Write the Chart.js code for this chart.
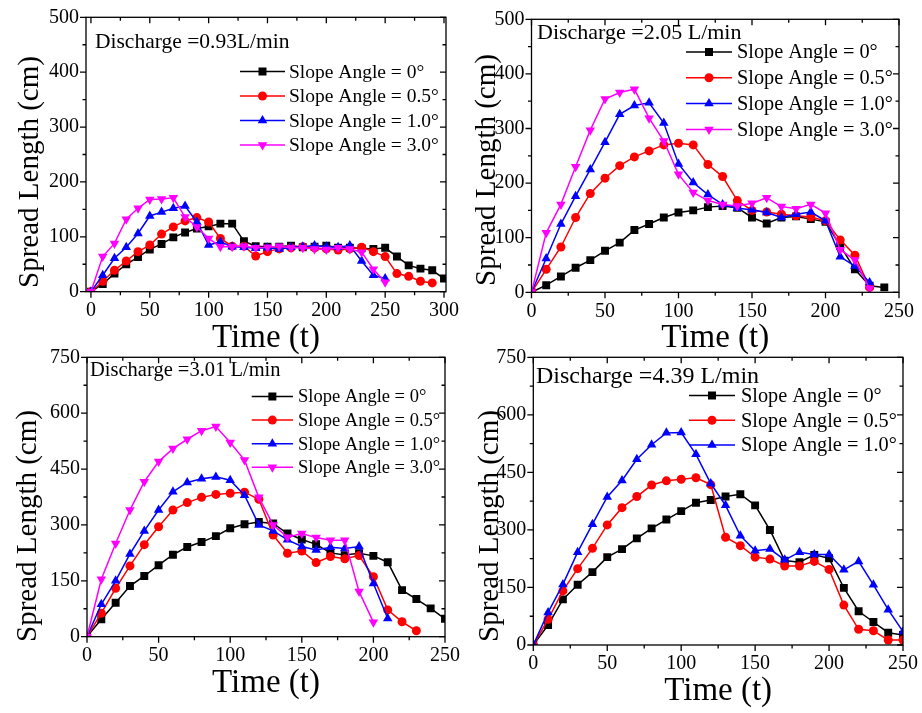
<!DOCTYPE html>
<html>
<head>
<meta charset="utf-8">
<script src="https://cdn.jsdelivr.net/npm/chart.js@4.4.0/dist/chart.umd.min.js"></script>
<style>
html, body { margin: 0; padding: 0; background: #fff; }
#wrap { position: relative; width: 922px; height: 713px; overflow: hidden; }
#wrap canvas { position: absolute; left: 0; top: 0; }
</style>
</head>
<body>
<div id="wrap">
  <canvas id="p1" width="922" height="713"></canvas>
  <canvas id="p2" width="922" height="713"></canvas>
  <canvas id="p3" width="922" height="713"></canvas>
  <canvas id="p4" width="922" height="713"></canvas>
</div>
<script>
// time of each reading (t)
const times = [0,10,20,30,40,50,60,70,80,90,100,110,120,130,140,150,160,170,180,190,200,210,220,230,240,250,260,270,280,290,300];

// tick labels
const xTicks300 = [0,50,100,150,200,250,300];
const xTicks250 = [0,50,100,150,200,250];
const yTicks500 = [0,100,200,300,400,500];
const yTicks750 = [0,150,300,450,600,750];

const seriesNames = ['Slope Angle = 0°', 'Slope Angle = 0.5°', 'Slope Angle = 1.0°', 'Slope Angle = 3.0°'];
const seriesColors = ['#000000', '#ff0000', '#0000ff', '#ff00ff'];
const seriesMarkers = ['rect', 'circle', 'triangle', 'triangleDown'];

// Discharge = 0.93 L/min
const p1Slope0  = [0,14,33,50,63,77,87,99,108,115,119,124,124,92,83,82,82,84,81,82,84,80,80,79,78,80,64,48,42,39,24];
const p1Slope05 = [0,19,39,56,73,85,105,118,129,135,127,97,83,83,65,73,78,80,82,80,78,76,78,81,73,64,33,28,19,16];
const p1Slope10 = [0,30,61,81,106,138,145,152,156,127,85,91,82,81,79,80,78,81,82,84,82,81,84,56,30,24];
const p1Slope30 = [0,64,88,132,152,168,169,171,136,118,97,82,82,83,80,81,83,80,80,78,77,80,78,72,41,17];

// Discharge = 2.05 L/min
const p2Slope0  = [0,13,29,45,59,76,91,114,125,137,146,150,156,158,155,137,126,137,139,134,129,85,42,12,9];
const p2Slope05 = [0,42,83,137,181,209,232,248,259,270,273,270,234,212,168,150,147,143,140,138,131,96,68,9];
const p2Slope10 = [0,62,125,176,225,275,326,342,347,310,235,201,179,161,154,151,146,137,143,147,131,65,48,18];
const p2Slope30 = [0,109,161,230,297,354,366,372,319,277,216,183,168,161,158,163,173,157,153,161,145,78,59,7];

// Discharge = 3.01 L/min
const p3Slope0  = [0,47,91,136,163,192,220,241,254,270,291,302,308,304,277,261,248,225,219,224,217,200,125,101,76,48];
const p3Slope05 = [0,63,130,190,247,295,340,360,374,382,385,388,369,273,224,230,199,215,209,218,161,72,40,16];
const p3Slope10 = [0,87,150,222,284,340,389,414,424,429,420,380,300,284,260,242,233,240,237,242,143,49];
const p3Slope30 = [0,154,250,340,416,470,505,530,553,564,521,474,374,300,267,277,266,259,259,121,39];

// Discharge = 4.39 L/min
const p4Slope0  = [0,52,119,157,190,229,250,278,304,327,349,371,378,387,393,364,300,220,216,235,226,149,88,60,32,26];
const p4Slope05 = [0,67,141,199,252,313,358,387,417,428,432,436,418,281,259,229,224,206,206,218,197,104,41,37,13,13];
const p4Slope10 = [0,85,158,242,315,386,429,484,522,553,554,497,421,364,285,246,250,222,242,236,236,196,218,157,92,35];

const FONT = "'Times New Roman', 'Liberation Serif', serif";

function withMinor(major) {
    const out = [];
    for (let i = 0; i < major.length; i++) {
        out.push(major[i]);
        if (i < major.length - 1) out.push((major[i] + major[i + 1]) / 2);
    }
    return out;
}

function drawMarker(ctx, kind, x, y, color) {
    ctx.fillStyle = color;
    ctx.beginPath();
    if (kind === 'rect') {
        ctx.rect(x - 4, y - 4, 8, 8);
    } else if (kind === 'circle') {
        ctx.arc(x, y, 4.5, 0, Math.PI * 2);
    } else if (kind === 'triangle') {
        ctx.moveTo(x, y - 5.5);
        ctx.lineTo(x + 4.8, y + 2.75);
        ctx.lineTo(x - 4.8, y + 2.75);
    } else {
        ctx.moveTo(x, y + 5.5);
        ctx.lineTo(x + 4.8, y - 2.75);
        ctx.lineTo(x - 4.8, y - 2.75);
    }
    ctx.closePath();
    ctx.fill();
}

// box, mirror ticks, y title, note and legend, Origin style
const framePlugin = {
    id: 'frame',
    afterDatasetsDraw(chart, args, opts) {
        const {ctx, chartArea: a, scales: {x, y}} = chart;
        ctx.save();
        ctx.strokeStyle = '#000';
        ctx.lineWidth = 1.3;
        ctx.strokeRect(a.left, a.top, a.right - a.left, a.bottom - a.top);
        ctx.beginPath();
        x.ticks.forEach(t => {
            const px = x.getPixelForValue(t.value);
            const len = opts.xMajor.includes(t.value) ? 6 : 3.5;
            ctx.moveTo(px, a.bottom); ctx.lineTo(px, a.bottom + len);
            ctx.moveTo(px, a.top); ctx.lineTo(px, a.top + len);
        });
        y.ticks.forEach(t => {
            const py = y.getPixelForValue(t.value);
            const len = opts.yMajor.includes(t.value) ? 6 : 3.5;
            ctx.moveTo(a.left, py); ctx.lineTo(a.left - len, py);
            ctx.moveTo(a.right, py); ctx.lineTo(a.right - len, py);
        });
        ctx.stroke();

        ctx.fillStyle = '#000';
        ctx.textBaseline = 'middle';

        // y axis title
        ctx.save();
        ctx.translate(opts.yTitle.cx, opts.yTitle.cy);
        ctx.rotate(-Math.PI / 2);
        ctx.textAlign = 'center';
        ctx.font = opts.yTitle.size + 'px ' + FONT;
        ctx.fillText('Spread Length (cm)', 0, 0);
        ctx.restore();

        // discharge note
        ctx.textAlign = 'left';
        ctx.font = opts.note.size + 'px ' + FONT;
        ctx.fillText(opts.note.text, opts.note.x, opts.note.y);

        // legend
        const lg = opts.legend;
        chart.data.datasets.forEach((ds, i) => {
            const yy = lg.y + i * lg.dy;
            ctx.strokeStyle = ds.borderColor;
            ctx.lineWidth = 1.5;
            ctx.beginPath();
            ctx.moveTo(lg.x1, yy);
            ctx.lineTo(lg.x2, yy);
            ctx.stroke();
            drawMarker(ctx, ds.marker, (lg.x1 + lg.x2) / 2, yy, ds.borderColor);
            ctx.fillStyle = '#000';
            ctx.font = lg.size + 'px ' + FONT;
            ctx.fillText(ds.label, lg.tx, yy + 1);
        });
        ctx.restore();
    }
};

function makePanel(id, p) {
    const W = 85, H = 66;
    const datasets = p.series.map((vals, i) => ({
        label: seriesNames[i],
        marker: seriesMarkers[i],
        data: vals.map((v, k) => ({x: times[k], y: v})),
        borderColor: seriesColors[i],
        backgroundColor: seriesColors[i],
        borderWidth: 1.5,
        pointStyle: seriesMarkers[i] === 'triangleDown' ? 'triangle' : seriesMarkers[i],
        pointRotation: seriesMarkers[i] === 'triangleDown' ? 180 : 0,
        pointRadius: seriesMarkers[i] === 'circle' ? 4.5 : (seriesMarkers[i] === 'rect' ? 5.6 : 5.5),
        pointBorderWidth: 0,
        tension: 0,
        order: 3 - i
    }));

    const xAll = withMinor(p.xMajor);
    const yAll = withMinor(p.yMajor);

    new Chart(document.getElementById(id).getContext('2d'), {
        type: 'line',
        data: {datasets: datasets},
        options: {
            responsive: false,
            animation: false,
            events: [],
            layout: {
                padding: {left: p.box.l - W, top: p.box.t, right: 922 - p.box.r, bottom: 713 - p.box.b - H}
            },
            scales: {
                x: {
                    type: 'linear',
                    min: p.xMin, max: p.xMax,
                    afterBuildTicks: s => { s.ticks = xAll.map(v => ({value: v})); },
                    afterFit: s => { s.height = H; },
                    grid: {display: false, drawTicks: true, tickLength: 6},
                    border: {display: false},
                    ticks: {
                        autoSkip: false, maxRotation: 0, padding: 1, color: '#000',
                        font: {family: FONT, size: 20},
                        callback: v => p.xMajor.includes(v) ? String(v) : ''
                    },
                    title: {
                        display: true, text: 'Time (t)', color: '#000',
                        font: {family: FONT, size: p.xTitle.size, lineHeight: 1},
                        padding: {top: 0, bottom: p.box.b + H - p.xTitle.size / 2 - p.xTitle.cy}
                    }
                },
                y: {
                    min: 0, max: p.yMax,
                    afterBuildTicks: s => { s.ticks = yAll.map(v => ({value: v})); },
                    afterFit: s => { s.width = W; },
                    grid: {display: false, drawTicks: true, tickLength: 6},
                    border: {display: false},
                    ticks: {
                        autoSkip: false, padding: 1, color: '#000',
                        font: {family: FONT, size: 20},
                        callback: v => p.yMajor.includes(v) ? String(v) : ''
                    }
                }
            },
            plugins: {
                legend: {display: false},
                tooltip: {enabled: false},
                frame: {xMajor: p.xMajor, yMajor: p.yMajor, yTitle: p.yTitle, note: p.note, legend: p.legend}
            }
        },
        plugins: [framePlugin]
    });
}

makePanel('p1', {
    box: {l: 86, t: 17.3, r: 446, b: 291.7},
    xMin: -4.2, xMax: 301.7, xMajor: xTicks300,
    yMax: 500, yMajor: yTicks500,
    series: [p1Slope0, p1Slope05, p1Slope10, p1Slope30],
    xTitle: {size: 33, cy: 338}, yTitle: {size: 29, cx: 30, cy: 172},
    note: {text: 'Discharge =0.93L/min', x: 95, y: 42, size: 21.5},
    legend: {x1: 240, x2: 285, tx: 289, y: 71.5, dy: 24.5, size: 19.5}
});

makePanel('p2', {
    box: {l: 531.5, t: 19.3, r: 899, b: 292.3},
    xMin: 0, xMax: 250, xMajor: xTicks250,
    yMax: 500, yMajor: yTicks500,
    series: [p2Slope0, p2Slope05, p2Slope10, p2Slope30],
    xTitle: {size: 33, cy: 338}, yTitle: {size: 29, cx: 487, cy: 170},
    note: {text: 'Discharge =2.05 L/min', x: 537, y: 33, size: 22},
    legend: {x1: 686, x2: 732, tx: 737, y: 52, dy: 25.8, size: 20.3}
});

makePanel('p3', {
    box: {l: 87, t: 357.3, r: 445, b: 636.7},
    xMin: 0, xMax: 250, xMajor: xTicks250,
    yMax: 750, yMajor: yTicks750,
    series: [p3Slope0, p3Slope05, p3Slope10, p3Slope30],
    xTitle: {size: 33, cy: 683}, yTitle: {size: 29, cx: 28, cy: 526},
    note: {text: 'Discharge =3.01 L/min', x: 90, y: 371, size: 20.5},
    legend: {x1: 251.7, x2: 293, tx: 298, y: 396.5, dy: 23.6, size: 18.5}
});

makePanel('p4', {
    box: {l: 533.3, t: 357.3, r: 903, b: 645},
    xMin: 0, xMax: 250, xMajor: xTicks250,
    yMax: 750, yMajor: yTicks750,
    series: [p4Slope0, p4Slope05, p4Slope10],
    xTitle: {size: 33, cy: 691}, yTitle: {size: 29, cx: 490, cy: 526},
    note: {text: 'Discharge =4.39 L/min', x: 536, y: 377, size: 24},
    legend: {x1: 689, x2: 735, tx: 741, y: 395.5, dy: 24.7, size: 20.3}
});
</script>
</body>
</html>
